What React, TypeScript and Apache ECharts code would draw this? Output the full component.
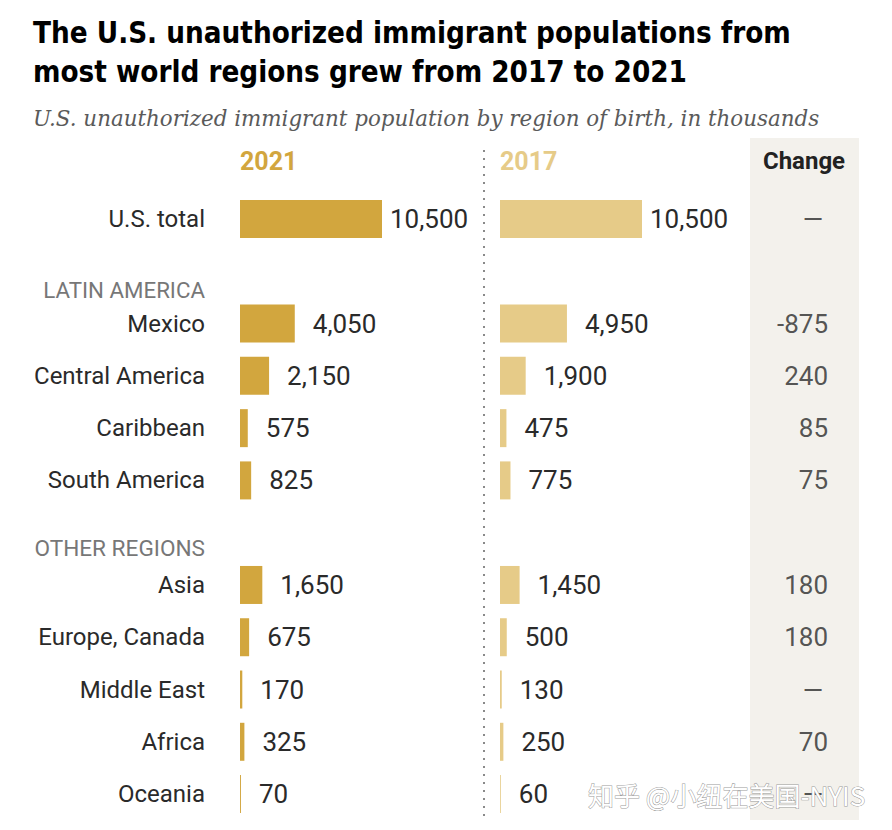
import React, { useEffect, useRef } from "react";
import * as echarts from "echarts";

// ---- data ----
const categories = [
  "U.S. total",
  "Mexico",
  "Central America",
  "Caribbean",
  "South America",
  "Asia",
  "Europe, Canada",
  "Middle East",
  "Africa",
  "Oceania",
];
// slot index of each row on the category axis (blank slots hold the section headers)
const slots = [0, 2, 3, 4, 5, 7, 8, 9, 10, 11];
const values2021 = [10500, 4050, 2150, 575, 825, 1650, 675, 170, 325, 70];
const values2017 = [10500, 4950, 1900, 475, 775, 1450, 500, 130, 250, 60];
const changeLabels = ["—", "-875", "240", "85", "75", "180", "180", "—", "70", "—"];
const sectionHeaders = ["LATIN AMERICA", "OTHER REGIONS"];
const columnHeaders = ["2021", "2017", "Change"];
const titleLines = [
  "The U.S. unauthorized immigrant populations from",
  "most world regions grew from 2017 to 2021",
];
const subtitle = "U.S. unauthorized immigrant population by region of birth, in thousands";

const SLOT_COUNT = 12;
const C2021 = "#D2A63E";
const C2017 = "#E6CB88";
const FONT = "Roboto, 'Liberation Sans', sans-serif";

export default function App() {
  const ref = useRef<HTMLDivElement>(null);
  useEffect(() => {
    if (!ref.current) return;
    const chart = echarts.init(ref.current, null, { renderer: "svg" });

    const axisData: string[] = [];
    for (let i = 0; i < SLOT_COUNT; i++) axisData.push(" ".repeat(i + 1));
    slots.forEach((s, i) => (axisData[s] = categories[i]));

    const slotted = (vals: number[]) => {
      const arr: any[] = new Array(SLOT_COUNT).fill("-");
      vals.forEach((v, i) => {
        arr[slots[i]] = {
          value: v,
          label: { distance: i === 0 ? 8 : 18 },
        };
      });
      return arr;
    };

    const changeData = changeLabels.map((t, i) => {
      const isDash = t === "—";
      return {
        value: [isDash ? 63 : 78, slots[i], t],
        label: { align: isDash ? "center" : "right" },
      };
    });

    const top = 192.9;
    const height = 627.3;
    const gridBase = { top, height };

    const valueLabel = {
      show: true,
      position: "right",
      color: "#2a2a2a",
      fontSize: 26,
      fontFamily: FONT,
      formatter: (p: any) => Number(p.value).toLocaleString("en-US"),
    };

    const hiddenX = (max: number) => ({
      type: "value",
      min: 0,
      max,
      show: false,
    });
    const catY = (idx: number, showLabel: boolean) => ({
      type: "category",
      gridIndex: idx,
      data: axisData,
      inverse: true,
      axisLine: { show: false },
      axisTick: { show: false },
      splitLine: { show: false },
      axisLabel: {
        show: showLabel,
        margin: 35,
        color: "#2a2a2a",
        fontSize: 24,
        fontFamily: FONT,
      },
    });

    const titleStyle = {
      fill: "#000000",
      fontSize: 31,
      fontWeight: "bold",
      fontFamily: "'DejaVu Sans Condensed', 'DejaVu Sans', sans-serif",
      verticalAlign: "middle",
    };

    chart.setOption({
      animation: false,
      backgroundColor: "#ffffff",
      graphic: [
        {
          type: "text",
          x: 33,
          y: 32,
          scaleX: 0.945,
          style: { ...titleStyle, text: titleLines[0] },
        },
        {
          type: "text",
          x: 33,
          y: 71,
          scaleX: 0.945,
          style: { ...titleStyle, text: titleLines[1] },
        },
        {
          type: "text",
          x: 33,
          y: 118,
          style: {
            text: subtitle,
            fill: "#5a5a5a",
            fontSize: 21.4,
            fontStyle: "italic",
            fontFamily: "'DejaVu Serif', 'Liberation Serif', serif",
            verticalAlign: "middle",
          },
        },
        {
          type: "rect",
          z: -10,
          shape: { x: 750, y: 138, width: 109, height: 682 },
          style: { fill: "#F3F1EC" },
        },
        {
          type: "line",
          shape: { x1: 484, y1: 150, x2: 484, y2: 822 },
          style: { stroke: "#8a8a8a", lineWidth: 2, lineDash: [2, 6] },
        },
        {
          type: "text",
          x: 240,
          y: 161,
          style: {
            text: columnHeaders[0],
            fill: C2021,
            fontSize: 25,
            fontWeight: "bold",
            fontFamily: FONT,
            verticalAlign: "middle",
          },
        },
        {
          type: "text",
          x: 500,
          y: 161,
          style: {
            text: columnHeaders[1],
            fill: C2017,
            fontSize: 25,
            fontWeight: "bold",
            fontFamily: FONT,
            verticalAlign: "middle",
          },
        },
        {
          type: "text",
          x: 804,
          y: 161,
          style: {
            text: columnHeaders[2],
            fill: "#222222",
            fontSize: 24,
            fontWeight: "bold",
            fontFamily: FONT,
            align: "center",
            verticalAlign: "middle",
          },
        },
        {
          type: "text",
          x: 205,
          y: 290,
          style: {
            text: sectionHeaders[0],
            fill: "#777777",
            fontSize: 22.3,
            fontFamily: FONT,
            align: "right",
            verticalAlign: "middle",
          },
        },
        {
          type: "text",
          x: 205,
          y: 548,
          style: {
            text: sectionHeaders[1],
            fill: "#777777",
            fontSize: 22.6,
            fontFamily: FONT,
            align: "right",
            verticalAlign: "middle",
          },
        },
        {
          type: "text",
          x: 588,
          y: 794,
          z: 100,
          style: {
            text: "知乎 @小纽在美国-NYIS",
            fill: "#ffffff",
            stroke: "#9a9a9a",
            lineWidth: 1,
            fontSize: 26,
            fontFamily: "'Noto Sans CJK SC', sans-serif",
            verticalAlign: "middle",
          },
        },
      ],
      grid: [
        { ...gridBase, left: 240, width: 284 },
        { ...gridBase, left: 500, width: 284 },
        { ...gridBase, left: 750, width: 108 },
      ],
      xAxis: [
        { ...hiddenX(21000), gridIndex: 0 },
        { ...hiddenX(21000), gridIndex: 1 },
        { ...hiddenX(108), gridIndex: 2 },
      ],
      yAxis: [catY(0, true), catY(1, false), catY(2, false)],
      series: [
        {
          type: "bar",
          name: "2021",
          xAxisIndex: 0,
          yAxisIndex: 0,
          barWidth: 38,
          itemStyle: { color: C2021 },
          label: valueLabel,
          data: slotted(values2021),
        },
        {
          type: "bar",
          name: "2017",
          xAxisIndex: 1,
          yAxisIndex: 1,
          barWidth: 38,
          itemStyle: { color: C2017 },
          label: valueLabel,
          data: slotted(values2017),
        },
        {
          type: "scatter",
          name: "Change",
          xAxisIndex: 2,
          yAxisIndex: 2,
          symbolSize: 0,
          label: {
            show: true,
            position: "inside",
            color: "#2a2a2a",
            fontSize: 26,
            fontFamily: FONT,
            formatter: (p: any) => p.value[2],
          },
          data: changeData,
        },
      ],
    });
    return () => chart.dispose();
  }, []);

  return (
    <div
      ref={ref}
      style={{ position: "fixed", left: 0, top: 0, width: 892, height: 830 }}
    />
  );
}
